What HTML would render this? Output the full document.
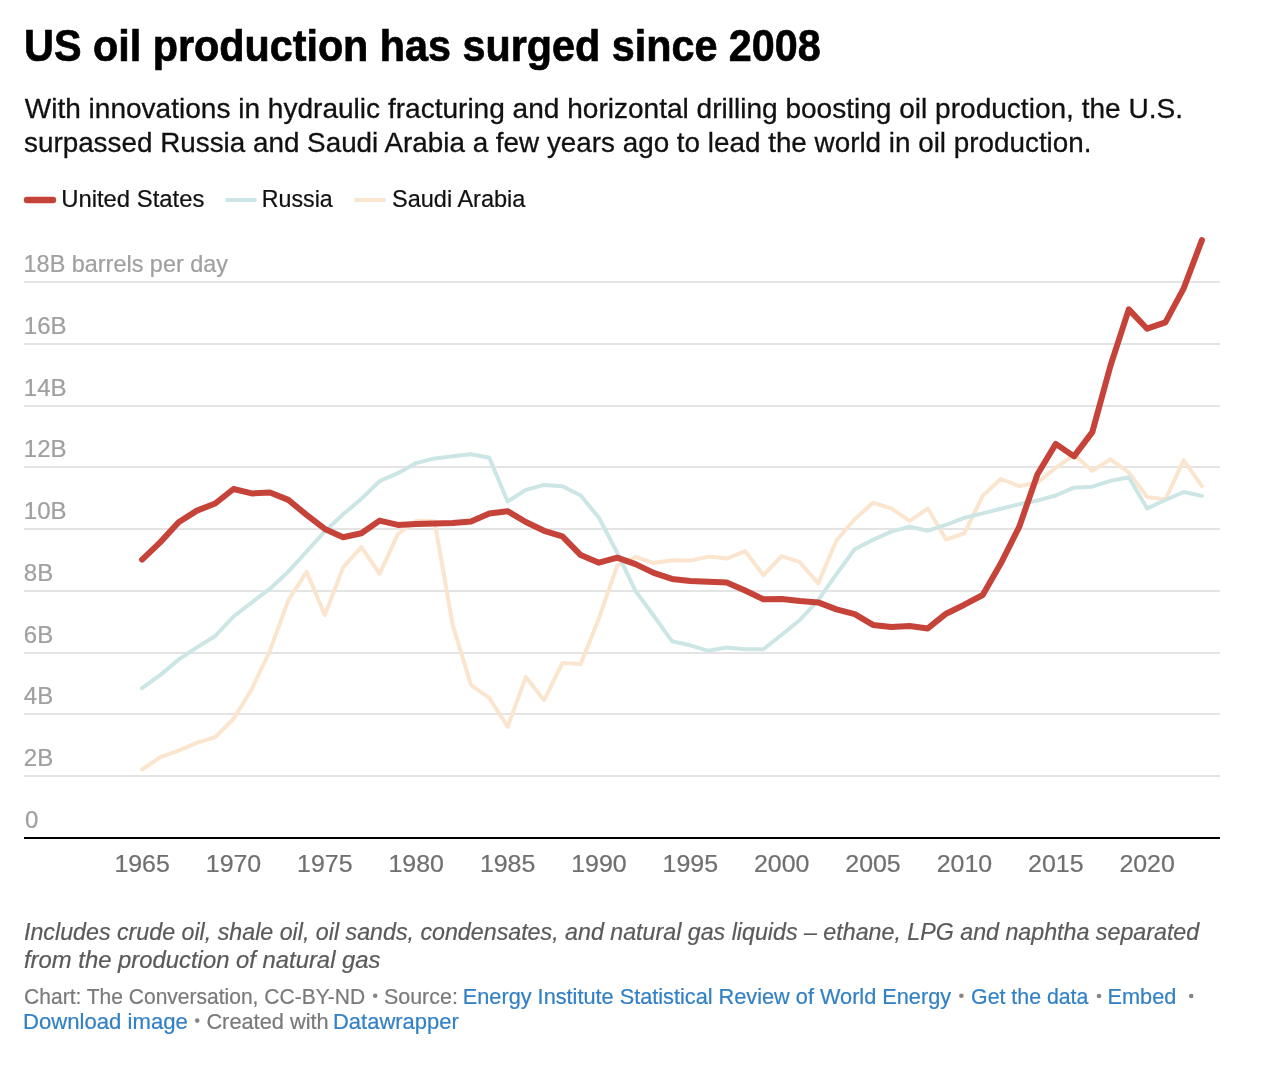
<!DOCTYPE html>
<html><head><meta charset="utf-8"><title>US oil production has surged since 2008</title>
<style>html,body{margin:0;padding:0;background:#fff;width:1262px;height:1082px;overflow:hidden;font-family:"Liberation Sans",sans-serif}</style>
</head><body>
<svg width="1262" height="1082" viewBox="0 0 1262 1082" style="position:absolute;left:0;top:0;will-change:transform" font-family='Liberation Sans, sans-serif'>
<rect width="1262" height="1082" fill="#fff"/>
<rect x="24" y="775" width="1196" height="2" fill="#e4e4e4"/>
<rect x="24" y="713" width="1196" height="2" fill="#e4e4e4"/>
<rect x="24" y="652" width="1196" height="2" fill="#e4e4e4"/>
<rect x="24" y="590" width="1196" height="2" fill="#e4e4e4"/>
<rect x="24" y="528" width="1196" height="2" fill="#e4e4e4"/>
<rect x="24" y="466" width="1196" height="2" fill="#e4e4e4"/>
<rect x="24" y="405" width="1196" height="2" fill="#e4e4e4"/>
<rect x="24" y="343" width="1196" height="2" fill="#e4e4e4"/>
<rect x="24" y="281" width="1196" height="2" fill="#e4e4e4"/>
<rect x="24" y="837" width="1196" height="2" fill="#000"/>
<path d="M142.1,769.5L160.4,757.2L178.6,750.7L196.9,742.8L215.2,737.2L233.5,719.0L251.7,689.1L270.0,650.5L288.3,600.4L306.6,571.8L324.8,615.1L343.1,567.4L361.4,547.1L379.6,573.8L397.9,534.0L416.2,520.8L434.5,521.2L452.7,624.9L471.0,685.1L489.3,697.9L507.6,726.8L525.8,677.1L544.1,700.2L562.4,663.0L580.7,663.9L598.9,618.4L617.2,565.6L635.5,557.0L653.7,563.1L672.0,560.3L690.3,560.6L708.6,556.6L726.8,558.6L745.1,551.1L763.4,575.1L781.7,556.2L799.9,562.2L818.2,583.4L836.5,540.5L854.7,519.2L873.0,502.7L891.3,508.4L909.6,520.8L927.8,508.6L946.1,539.5L964.4,533.3L982.7,495.8L1000.9,479.0L1019.2,486.1L1037.5,482.6L1055.8,467.8L1074.0,454.8L1092.3,470.7L1110.6,459.3L1128.8,472.5L1147.1,497.0L1165.4,499.6L1183.7,460.2L1201.9,486.2" fill="none" stroke="#fbe5cf" stroke-width="4" stroke-linejoin="round" stroke-linecap="round"/>
<path d="M142.1,688.2L160.4,674.9L178.6,659.6L196.9,647.4L215.2,636.0L233.5,616.5L251.7,602.6L270.0,588.7L288.3,571.7L306.6,551.5L324.8,531.3L343.1,514.3L361.4,498.8L379.6,481.2L397.9,473.2L416.2,463.1L434.5,458.4L452.7,456.2L471.0,454.2L489.3,457.8L507.6,501.5L525.8,489.9L544.1,484.9L562.4,486.3L580.7,495.5L598.9,517.8L617.2,552.6L635.5,590.9L653.7,615.7L672.0,641.2L690.3,645.3L708.6,650.8L726.8,647.4L745.1,649.3L763.4,649.3L781.7,634.7L799.9,620.0L818.2,600.2L836.5,574.1L854.7,549.2L873.0,539.9L891.3,531.6L909.6,526.6L927.8,530.7L946.1,524.8L964.4,517.8L982.7,513.4L1000.9,508.8L1019.2,504.2L1037.5,500.5L1055.8,495.5L1074.0,487.7L1092.3,486.7L1110.6,480.9L1128.8,477.2L1147.1,508.5L1165.4,500.0L1183.7,492.0L1201.9,495.9" fill="none" stroke="#cce6e5" stroke-width="4" stroke-linejoin="round" stroke-linecap="round"/>
<path d="M142.1,559.6L160.4,542.1L178.6,522.3L196.9,510.6L215.2,503.5L233.5,489.0L251.7,493.4L270.0,492.5L288.3,499.9L306.6,514.9L324.8,528.9L343.1,537.3L361.4,533.3L379.6,520.6L397.9,524.9L416.2,523.9L434.5,523.5L452.7,523.0L471.0,521.5L489.3,513.4L507.6,511.2L525.8,522.0L544.1,530.8L562.4,536.4L580.7,555.1L598.9,562.7L617.2,557.7L635.5,564.1L653.7,572.9L672.0,578.9L690.3,580.9L708.6,581.8L726.8,582.6L745.1,590.5L763.4,599.2L781.7,599.1L799.9,601.1L818.2,602.4L836.5,609.4L854.7,614.1L873.0,624.9L891.3,627.1L909.6,626.1L927.8,628.4L946.1,613.7L964.4,604.7L982.7,595.0L1000.9,563.3L1019.2,526.9L1037.5,474.3L1055.8,443.9L1074.0,456.4L1092.3,432.1L1110.6,365.2L1128.8,309.4L1147.1,328.7L1165.4,322.4L1183.7,288.4L1201.9,240.1" fill="none" stroke="#c6433a" stroke-width="6" stroke-linejoin="round" stroke-linecap="round"/>
<line x1="27" y1="200" x2="53" y2="200" stroke="#c6433a" stroke-width="6.4" stroke-linecap="round"/>
<line x1="227.1" y1="200" x2="254.9" y2="200" stroke="#cce6e5" stroke-width="4" stroke-linecap="round"/>
<line x1="356" y1="200" x2="384" y2="200" stroke="#fbe5cf" stroke-width="4" stroke-linecap="round"/>
<text x="24.1" y="61.0" font-size="44.5" font-weight="bold" font-style="normal" fill="#000" textLength="796.7" lengthAdjust="spacingAndGlyphs" stroke="#000" stroke-width="0.7">US oil production has surged since 2008</text>
<text x="24.7" y="118.0" font-size="28.5" font-weight="normal" font-style="normal" fill="#111" textLength="1158.3" lengthAdjust="spacingAndGlyphs" stroke="#111" stroke-width="0.3">With innovations in hydraulic fracturing and horizontal drilling boosting oil production, the U.S.</text>
<text x="24.0" y="151.5" font-size="28.5" font-weight="normal" font-style="normal" fill="#111" textLength="1067.5" lengthAdjust="spacingAndGlyphs" stroke="#111" stroke-width="0.3">surpassed Russia and Saudi Arabia a few years ago to lead the world in oil production.</text>
<text x="61.2" y="206.5" font-size="24.3" font-weight="normal" font-style="normal" fill="#111" textLength="143.2" lengthAdjust="spacingAndGlyphs" stroke="#111" stroke-width="0.22">United States</text>
<text x="261.8" y="206.5" font-size="24.3" font-weight="normal" font-style="normal" fill="#111" textLength="70.9" lengthAdjust="spacingAndGlyphs" stroke="#111" stroke-width="0.22">Russia</text>
<text x="392.0" y="206.5" font-size="24.3" font-weight="normal" font-style="normal" fill="#111" textLength="133.4" lengthAdjust="spacingAndGlyphs" stroke="#111" stroke-width="0.22">Saudi Arabia</text>
<text x="23.6" y="272.0" font-size="24" font-weight="normal" font-style="normal" fill="#a0a0a0" textLength="204.4" lengthAdjust="spacingAndGlyphs" stroke="#a0a0a0" stroke-width="0.22">18B barrels per day</text>
<text x="24.0" y="939.8" font-size="24.3" font-weight="normal" font-style="italic" fill="#5a5a5a" textLength="1175.2" lengthAdjust="spacingAndGlyphs" stroke="#5a5a5a" stroke-width="0.22">Includes crude oil, shale oil, oil sands, condensates, and natural gas liquids – ethane, LPG and naphtha separated</text>
<text x="24.0" y="967.7" font-size="24.3" font-weight="normal" font-style="italic" fill="#5a5a5a" textLength="356.5" lengthAdjust="spacingAndGlyphs" stroke="#5a5a5a" stroke-width="0.22">from the production of natural gas</text>
<text x="24.1" y="1003.8" font-size="22.5" font-weight="normal" font-style="normal" fill="#7a7a7a" textLength="341.0" lengthAdjust="spacingAndGlyphs" stroke="#7a7a7a" stroke-width="0.22">Chart: The Conversation, CC-BY-ND</text>
<text x="383.9" y="1003.8" font-size="22.5" font-weight="normal" font-style="normal" fill="#7a7a7a" textLength="74.0" lengthAdjust="spacingAndGlyphs" stroke="#7a7a7a" stroke-width="0.22">Source:</text>
<text x="462.8" y="1003.8" font-size="22.5" font-weight="normal" font-style="normal" fill="#3381c5" textLength="488.3" lengthAdjust="spacingAndGlyphs" stroke="#3381c5" stroke-width="0.22">Energy Institute Statistical Review of World Energy</text>
<text x="971.1" y="1003.8" font-size="22.5" font-weight="normal" font-style="normal" fill="#3381c5" textLength="117.3" lengthAdjust="spacingAndGlyphs" stroke="#3381c5" stroke-width="0.22">Get the data</text>
<text x="1107.6" y="1003.8" font-size="22.5" font-weight="normal" font-style="normal" fill="#3381c5" textLength="68.7" lengthAdjust="spacingAndGlyphs" stroke="#3381c5" stroke-width="0.22">Embed</text>
<text x="23.0" y="1028.5" font-size="22.5" font-weight="normal" font-style="normal" fill="#3381c5" textLength="164.8" lengthAdjust="spacingAndGlyphs" stroke="#3381c5" stroke-width="0.22">Download image</text>
<text x="206.4" y="1028.5" font-size="22.5" font-weight="normal" font-style="normal" fill="#7a7a7a" textLength="122.3" lengthAdjust="spacingAndGlyphs" stroke="#7a7a7a" stroke-width="0.22">Created with</text>
<text x="333.0" y="1028.5" font-size="22.5" font-weight="normal" font-style="normal" fill="#3381c5" textLength="125.8" lengthAdjust="spacingAndGlyphs" stroke="#3381c5" stroke-width="0.22">Datawrapper</text>
<circle cx="375.2" cy="995.7" r="2.3" fill="#858585"/>
<circle cx="961.4" cy="995.8" r="2.3" fill="#858585"/>
<circle cx="1099" cy="996" r="2.3" fill="#858585"/>
<circle cx="1191.2" cy="996" r="2.3" fill="#858585"/>
<circle cx="197.2" cy="1020.6" r="2.3" fill="#858585"/>
<text x="25.0" y="828.0" font-size="24" font-weight="normal" font-style="normal" fill="#a0a0a0" stroke="#a0a0a0" stroke-width="0.22">0</text>
<text x="23.8" y="766.0" font-size="24" font-weight="normal" font-style="normal" fill="#a0a0a0" stroke="#a0a0a0" stroke-width="0.22">2B</text>
<text x="23.8" y="704.0" font-size="24" font-weight="normal" font-style="normal" fill="#a0a0a0" stroke="#a0a0a0" stroke-width="0.22">4B</text>
<text x="23.8" y="643.0" font-size="24" font-weight="normal" font-style="normal" fill="#a0a0a0" stroke="#a0a0a0" stroke-width="0.22">6B</text>
<text x="23.8" y="581.0" font-size="24" font-weight="normal" font-style="normal" fill="#a0a0a0" stroke="#a0a0a0" stroke-width="0.22">8B</text>
<text x="23.8" y="519.0" font-size="24" font-weight="normal" font-style="normal" fill="#a0a0a0" stroke="#a0a0a0" stroke-width="0.22">10B</text>
<text x="23.8" y="457.0" font-size="24" font-weight="normal" font-style="normal" fill="#a0a0a0" stroke="#a0a0a0" stroke-width="0.22">12B</text>
<text x="23.8" y="396.0" font-size="24" font-weight="normal" font-style="normal" fill="#a0a0a0" stroke="#a0a0a0" stroke-width="0.22">14B</text>
<text x="23.8" y="334.0" font-size="24" font-weight="normal" font-style="normal" fill="#a0a0a0" stroke="#a0a0a0" stroke-width="0.22">16B</text>
<text x="142.1" y="872.2" font-size="24" font-weight="normal" font-style="normal" fill="#707070" textLength="55.4" lengthAdjust="spacingAndGlyphs" text-anchor="middle" stroke="#707070" stroke-width="0.22">1965</text>
<text x="233.5" y="872.2" font-size="24" font-weight="normal" font-style="normal" fill="#707070" textLength="55.4" lengthAdjust="spacingAndGlyphs" text-anchor="middle" stroke="#707070" stroke-width="0.22">1970</text>
<text x="324.8" y="872.2" font-size="24" font-weight="normal" font-style="normal" fill="#707070" textLength="55.4" lengthAdjust="spacingAndGlyphs" text-anchor="middle" stroke="#707070" stroke-width="0.22">1975</text>
<text x="416.2" y="872.2" font-size="24" font-weight="normal" font-style="normal" fill="#707070" textLength="55.4" lengthAdjust="spacingAndGlyphs" text-anchor="middle" stroke="#707070" stroke-width="0.22">1980</text>
<text x="507.6" y="872.2" font-size="24" font-weight="normal" font-style="normal" fill="#707070" textLength="55.4" lengthAdjust="spacingAndGlyphs" text-anchor="middle" stroke="#707070" stroke-width="0.22">1985</text>
<text x="598.9" y="872.2" font-size="24" font-weight="normal" font-style="normal" fill="#707070" textLength="55.4" lengthAdjust="spacingAndGlyphs" text-anchor="middle" stroke="#707070" stroke-width="0.22">1990</text>
<text x="690.3" y="872.2" font-size="24" font-weight="normal" font-style="normal" fill="#707070" textLength="55.4" lengthAdjust="spacingAndGlyphs" text-anchor="middle" stroke="#707070" stroke-width="0.22">1995</text>
<text x="781.7" y="872.2" font-size="24" font-weight="normal" font-style="normal" fill="#707070" textLength="55.4" lengthAdjust="spacingAndGlyphs" text-anchor="middle" stroke="#707070" stroke-width="0.22">2000</text>
<text x="873.0" y="872.2" font-size="24" font-weight="normal" font-style="normal" fill="#707070" textLength="55.4" lengthAdjust="spacingAndGlyphs" text-anchor="middle" stroke="#707070" stroke-width="0.22">2005</text>
<text x="964.4" y="872.2" font-size="24" font-weight="normal" font-style="normal" fill="#707070" textLength="55.4" lengthAdjust="spacingAndGlyphs" text-anchor="middle" stroke="#707070" stroke-width="0.22">2010</text>
<text x="1055.8" y="872.2" font-size="24" font-weight="normal" font-style="normal" fill="#707070" textLength="55.4" lengthAdjust="spacingAndGlyphs" text-anchor="middle" stroke="#707070" stroke-width="0.22">2015</text>
<text x="1147.1" y="872.2" font-size="24" font-weight="normal" font-style="normal" fill="#707070" textLength="55.4" lengthAdjust="spacingAndGlyphs" text-anchor="middle" stroke="#707070" stroke-width="0.22">2020</text>
</svg>
</body></html>
